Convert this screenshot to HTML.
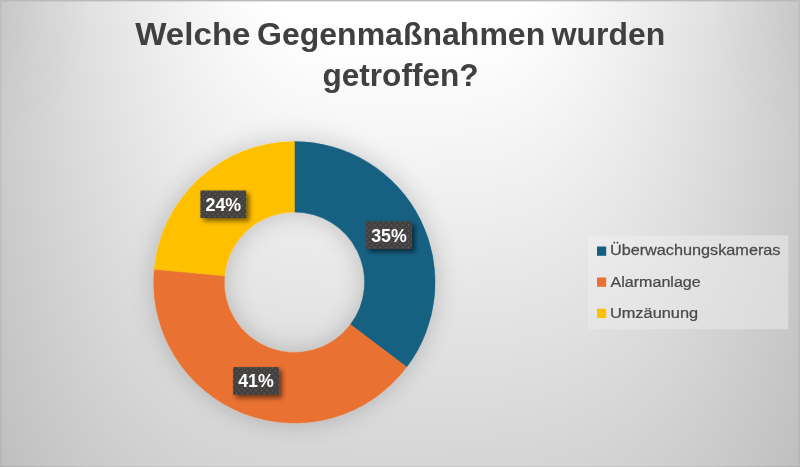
<!DOCTYPE html>
<html lang="de">
<head>
<meta charset="utf-8">
<title>Welche Gegenmaßnahmen wurden getroffen?</title>
<style>
  html, body { margin: 0; padding: 0; }
  body {
    width: 800px; height: 467px; overflow: hidden; position: relative;
    font-family: "Liberation Sans", sans-serif;
    background: #bfbfbf;
  }
  #bg {
    position: absolute; left: 0; top: 0; width: 800px; height: 467px;
    background: #bfbfbf;
  }
  #chart { position: absolute; left: 0; top: 0; display: block; }
  #bgsvg { display: block; }
  #frame {
    background: radial-gradient(ellipse 90px 140px at 0px 0px, rgba(0,0,0,0.036), rgba(0,0,0,0)), radial-gradient(ellipse 90px 140px at 800px 0px, rgba(0,0,0,0.036), rgba(0,0,0,0));
    position: absolute; left: 0; top: 0; width: 800px; height: 467px; box-sizing: border-box;
    border-left: 1px solid rgba(0,0,0,0.05); border-right: 1px solid rgba(0,0,0,0.05);
    border-bottom: 1px solid rgba(0,0,0,0.04); border-top: 1px solid #bababa;
    box-shadow: inset 0 1px 0 rgba(186,186,186,0.4), inset 1px 0 1px rgba(0,0,0,0.03), inset -1px 0 1px rgba(0,0,0,0.03);
  }

</style>
</head>
<body>
<div id="bg"><svg id="bgsvg" width="800" height="467" viewBox="0 0 800 467">
<rect width="800" height="467" fill="#bfbfbf"/>
<path fill="#c0c0c0" d="M-12 -8L-12 416.8L5 466.9L22 506.4L40 538.4L57 564.8L74 586.7L91 604.9L108 620.2L125 633.0L142 643.7L160 652.5L177 659.8L194 665.8L211 670.6L228 674.3L246 677.3L263 679.5L280 681.2L297 682.3L314 683.1L331 683.5L348 683.8L366 683.9L383 683.9L400 683.9L417 683.9L434 683.9L452 683.8L469 683.5L486 683.1L503 682.3L520 681.2L537 679.5L554 677.3L572 674.3L589 670.6L606 665.8L623 659.8L640 652.5L658 643.7L675 633.0L692 620.2L709 604.9L726 586.7L743 564.8L760 538.4L778 506.4L795 466.9L812 416.8L812 -8Z"/>
<path fill="#c1c1c1" d="M-12 -8L-12 395.6L5 448.8L22 490.4L40 523.8L57 551.1L74 573.8L91 592.6L108 608.4L125 621.6L142 632.5L160 641.6L177 649.1L194 655.2L211 660.1L228 664.0L246 667.0L263 669.3L280 671.0L297 672.1L314 672.9L331 673.4L348 673.6L366 673.8L383 673.8L400 673.8L417 673.8L434 673.8L452 673.6L469 673.4L486 672.9L503 672.1L520 671.0L537 669.3L554 667.0L572 664.0L589 660.1L606 655.2L623 649.1L640 641.6L658 632.5L675 621.6L692 608.4L709 592.6L726 573.8L743 551.1L760 523.8L778 490.4L795 448.8L812 395.6L812 -8Z"/>
<path fill="#c2c2c2" d="M-12 -8L-12 373.6L5 430.2L22 473.9L40 508.8L57 537.3L74 560.8L91 580.3L108 596.5L125 610.1L142 621.3L160 630.7L177 638.3L194 644.6L211 649.6L228 653.6L246 656.7L263 659.0L280 660.8L297 662.0L314 662.8L331 663.2L348 663.5L366 663.6L383 663.7L400 663.7L417 663.7L434 663.6L452 663.5L469 663.2L486 662.8L503 662.0L520 660.8L537 659.0L554 656.7L572 653.6L589 649.6L606 644.6L623 638.3L640 630.7L658 621.3L675 610.1L692 596.5L709 580.3L726 560.8L743 537.3L760 508.8L778 473.9L795 430.2L812 373.6L812 -8Z"/>
<path fill="#c3c3c3" d="M-12 -8L-12 350.3L5 411.0L22 457.1L40 493.7L57 523.3L74 547.6L91 567.8L108 584.5L125 598.5L142 610.1L160 619.7L177 627.6L194 634.0L211 639.1L228 643.2L246 646.4L263 648.8L280 650.6L297 651.8L314 652.6L331 653.1L348 653.4L366 653.5L383 653.5L400 653.5L417 653.5L434 653.5L452 653.4L469 653.1L486 652.6L503 651.8L520 650.6L537 648.8L554 646.4L572 643.2L589 639.1L606 634.0L623 627.6L640 619.7L658 610.1L675 598.5L692 584.5L709 567.8L726 547.6L743 523.3L760 493.7L778 457.1L795 411.0L812 350.3L812 -8Z"/>
<path fill="#c4c4c4" d="M-12 -8L-12 325.7L5 391.0L22 439.9L40 478.2L57 509.0L74 534.3L91 555.2L108 572.5L125 586.9L142 598.8L160 608.7L177 616.8L194 623.4L211 628.7L228 632.8L246 636.1L263 638.5L280 640.3L297 641.6L314 642.5L331 643.0L348 643.2L366 643.4L383 643.4L400 643.4L417 643.4L434 643.4L452 643.2L469 643.0L486 642.5L503 641.6L520 640.3L537 638.5L554 636.1L572 632.8L589 628.7L606 623.4L623 616.8L640 608.7L658 598.8L675 586.9L692 572.5L709 555.2L726 534.3L743 509.0L760 478.2L778 439.9L795 391.0L812 325.7L812 -8Z"/>
<path fill="#c5c5c5" d="M-12 -8L-12 299.5L5 370.2L22 422.1L40 462.4L57 494.6L74 520.8L91 542.5L108 560.3L125 575.2L142 587.5L160 597.6L177 605.9L194 612.7L211 618.1L228 622.4L246 625.8L263 628.3L280 630.1L297 631.4L314 632.3L331 632.8L348 633.1L366 633.2L383 633.3L400 633.3L417 633.3L434 633.2L452 633.1L469 632.8L486 632.3L503 631.4L520 630.1L537 628.3L554 625.8L572 622.4L589 618.1L606 612.7L623 605.9L640 597.6L658 587.5L675 575.2L692 560.3L709 542.5L726 520.8L743 494.6L760 462.4L778 422.1L795 370.2L812 299.5L812 -8Z"/>
<path fill="#c6c6c6" d="M-12 -8L-12 271.3L5 348.4L22 403.8L40 446.2L57 479.9L74 507.2L91 529.6L108 548.1L125 563.4L142 576.1L160 586.5L177 595.1L194 602.0L211 607.6L228 612.0L246 615.5L263 618.0L280 619.9L297 621.3L314 622.1L331 622.7L348 623.0L366 623.1L383 623.1L400 623.1L417 623.1L434 623.1L452 623.0L469 622.7L486 622.1L503 621.3L520 619.9L537 618.0L554 615.5L572 612.0L589 607.6L606 602.0L623 595.1L640 586.5L658 576.1L675 563.4L692 548.1L709 529.6L726 507.2L743 479.9L760 446.2L778 403.8L795 348.4L812 271.3L812 -8Z"/>
<path fill="#c7c7c7" d="M-12 -8L-12 240.5L5 325.5L22 384.8L40 429.6L57 465.0L74 493.4L91 516.7L108 535.8L125 551.6L142 564.7L160 575.4L177 584.2L194 591.4L211 597.1L228 601.6L246 605.1L263 607.8L280 609.7L297 611.1L314 612.0L331 612.5L348 612.8L366 613.0L383 613.0L400 613.0L417 613.0L434 613.0L452 612.8L469 612.5L486 612.0L503 611.1L520 609.7L537 607.8L554 605.1L572 601.6L589 597.1L606 591.4L623 584.2L640 575.4L658 564.7L675 551.6L692 535.8L709 516.7L726 493.4L743 465.0L760 429.6L778 384.8L795 325.5L812 240.5L812 -8Z"/>
<path fill="#c8c8c8" d="M-12 -8L-12 206.2L5 301.2L22 365.1L40 412.7L57 449.7L74 479.4L91 503.6L108 523.4L125 539.7L142 553.2L160 564.3L177 573.3L194 580.7L211 586.5L228 591.2L246 594.8L263 597.5L280 599.5L297 600.9L314 601.8L331 602.4L348 602.7L366 602.8L383 602.9L400 602.9L417 602.9L434 602.8L452 602.7L469 602.4L486 601.8L503 600.9L520 599.5L537 597.5L554 594.8L572 591.2L589 586.5L606 580.7L623 573.3L640 564.3L658 553.2L675 539.7L692 523.4L709 503.6L726 479.4L743 449.7L760 412.7L778 365.1L795 301.2L812 206.2L812 -8Z"/>
<path fill="#c9c9c9" d="M-12 -8L-12 167.3L5 275.3L22 344.6L40 395.2L57 434.2L74 465.2L91 490.3L108 510.8L125 527.7L142 541.6L160 553.0L177 562.4L194 569.9L211 576.0L228 580.7L246 584.4L263 587.2L280 589.3L297 590.7L314 591.7L331 592.2L348 592.6L366 592.7L383 592.7L400 592.7L417 592.7L434 592.7L452 592.6L469 592.2L486 591.7L503 590.7L520 589.3L537 587.2L554 584.4L572 580.7L589 576.0L606 569.9L623 562.4L640 553.0L658 541.6L675 527.7L692 510.8L709 490.3L726 465.2L743 434.2L760 395.2L778 344.6L795 275.3L812 167.3L812 -8Z"/>
<path fill="#cacaca" d="M-12 -8L-12 121.3L5 247.3L22 323.2L40 377.2L57 418.3L74 450.7L91 476.9L108 498.2L125 515.7L142 530.0L160 541.8L177 551.4L194 559.2L211 565.4L228 570.3L246 574.1L263 577.0L280 579.1L297 580.5L314 581.5L331 582.1L348 582.4L366 582.6L383 582.6L400 582.6L417 582.6L434 582.6L452 582.4L469 582.1L486 581.5L503 580.5L520 579.1L537 577.0L554 574.1L572 570.3L589 565.4L606 559.2L623 551.4L640 541.8L658 530.0L675 515.7L692 498.2L709 476.9L726 450.7L743 418.3L760 377.2L778 323.2L795 247.3L812 121.3L812 -8Z"/>
<path fill="#cbcbcb" d="M-12 -8L-12 63.2L5 216.8L22 300.6L40 358.5L57 402.0L74 436.0L91 463.3L108 485.4L125 503.5L142 518.4L160 530.5L177 540.4L194 548.4L211 554.8L228 559.8L246 563.7L263 566.7L280 568.8L297 570.3L314 571.3L331 572.0L348 572.3L366 572.4L383 572.5L400 572.5L417 572.5L434 572.4L452 572.3L469 572.0L486 571.3L503 570.3L520 568.8L537 566.7L554 563.7L572 559.8L589 554.8L606 548.4L623 540.4L640 530.5L658 518.4L675 503.5L692 485.4L709 463.3L726 436.0L743 402.0L760 358.5L778 300.6L795 216.8L812 63.2L812 -8Z"/>
<path fill="#cccccc" d="M-12 -8L-12 -8.0L5 182.7L22 276.7L40 339.2L57 385.3L74 421.1L91 449.5L108 472.5L125 491.3L142 506.6L160 519.2L177 529.3L194 537.6L211 544.2L228 549.3L246 553.4L263 556.4L280 558.6L297 560.2L314 561.2L331 561.8L348 562.2L366 562.3L383 562.3L400 562.4L417 562.3L434 562.3L452 562.2L469 561.8L486 561.2L503 560.2L520 558.6L537 556.4L554 553.4L572 549.3L589 544.2L606 537.6L623 529.3L640 519.2L658 506.6L675 491.3L692 472.5L709 449.5L726 421.1L743 385.3L760 339.2L778 276.7L795 182.7L812 -8.0L812 -8Z"/>
<path fill="#cdcdcd" d="M-12 -8L-12 -8.0L5 146.1L23 252.3L40 319.9L57 368.7L74 406.2L91 435.9L108 459.8L126 479.1L143 495.0L160 507.9L177 518.4L194 526.8L211 533.6L228 538.9L246 543.0L263 546.1L280 548.4L297 550.0L314 551.0L331 551.7L349 552.0L366 552.2L383 552.2L400 552.2L417 552.2L434 552.2L451 552.0L469 551.7L486 551.0L503 550.0L520 548.4L537 546.1L554 543.0L572 538.9L589 533.6L606 526.8L623 518.4L640 507.9L657 495.0L674 479.1L692 459.8L709 435.9L726 406.2L743 368.7L760 319.9L777 252.3L795 146.1L812 -8.0L812 -8Z"/>
<path fill="#cecece" d="M-7 -8L-7 -8.0L10 140.4L27 245.5L44 312.3L61 360.6L78 397.7L95 427.0L112 450.6L129 469.8L146 485.5L162 498.2L179 508.6L196 517.0L213 523.6L230 528.9L247 533.0L264 536.0L281 538.3L298 539.9L315 540.9L332 541.5L349 541.9L366 542.0L383 542.1L400 542.1L417 542.1L434 542.0L451 541.9L468 541.5L485 540.9L502 539.9L519 538.3L536 536.0L553 533.0L570 528.9L587 523.6L604 517.0L621 508.6L638 498.2L654 485.5L671 469.8L688 450.6L705 427.0L722 397.7L739 360.6L756 312.3L773 245.5L790 140.4L807 -8.0L807 -8Z"/>
<path fill="#cfcfcf" d="M-3 -8L-3 -8.0L14 134.7L31 238.6L48 304.7L64 352.5L81 389.2L98 418.2L115 441.5L132 460.5L148 476.0L165 488.6L182 498.8L199 507.1L215 513.7L232 518.9L249 522.9L266 526.0L283 528.2L299 529.8L316 530.8L333 531.4L350 531.8L366 531.9L383 532.0L400 532.0L417 532.0L434 531.9L450 531.8L467 531.4L484 530.8L501 529.8L517 528.2L534 526.0L551 522.9L568 518.9L585 513.7L601 507.1L618 498.8L635 488.6L652 476.0L668 460.5L685 441.5L702 418.2L719 389.2L736 352.5L752 304.7L769 238.6L786 134.7L803 -8.0L803 -8Z"/>
<path fill="#d0d0d0" d="M2 -8L2 -8.0L18 129.0L35 231.8L52 297.1L68 344.4L85 380.6L101 409.3L118 432.4L135 451.1L151 466.4L168 478.9L184 489.1L201 497.3L217 503.8L234 508.9L251 512.9L267 515.9L284 518.1L300 519.6L317 520.7L334 521.3L350 521.6L367 521.8L383 521.8L400 521.8L417 521.8L433 521.8L450 521.6L466 521.3L483 520.7L500 519.6L516 518.1L533 515.9L549 512.9L566 508.9L583 503.8L599 497.3L616 489.1L632 478.9L649 466.4L665 451.1L682 432.4L699 409.3L715 380.6L732 344.4L748 297.1L765 231.8L782 129.0L798 -8.0L798 -8Z"/>
<path fill="#d1d1d1" d="M6 -8L6 -8.0L23 123.3L39 224.9L56 289.5L72 336.2L88 372.1L105 400.4L121 423.3L138 441.8L154 456.9L170 469.3L187 479.3L203 487.4L220 493.9L236 498.9L252 502.9L269 505.8L285 508.0L302 509.5L318 510.5L334 511.2L351 511.5L367 511.6L384 511.7L400 511.7L416 511.7L433 511.6L449 511.5L466 511.2L482 510.5L498 509.5L515 508.0L531 505.8L548 502.9L564 498.9L580 493.9L597 487.4L613 479.3L630 469.3L646 456.9L662 441.8L679 423.3L695 400.4L712 372.1L728 336.2L744 289.5L761 224.9L777 123.3L794 -8.0L794 -8Z"/>
<path fill="#d2d2d2" d="M11 -8L11 -8.0L27 117.7L43 218.1L59 281.9L76 328.1L92 363.6L108 391.6L124 414.2L141 432.5L157 447.4L173 459.6L189 469.5L205 477.5L222 483.9L238 489.0L254 492.9L270 495.8L286 497.9L303 499.4L319 500.4L335 501.0L351 501.4L368 501.5L384 501.6L400 501.6L416 501.6L432 501.5L449 501.4L465 501.0L481 500.4L497 499.4L514 497.9L530 495.8L546 492.9L562 489.0L578 483.9L595 477.5L611 469.5L627 459.6L643 447.4L659 432.5L676 414.2L692 391.6L708 363.6L724 328.1L741 281.9L757 218.1L773 117.7L789 -8.0L789 -8Z"/>
<path fill="#d3d3d3" d="M15 -8L15 -8.0L31 112.0L47 211.2L63 274.3L79 320.0L95 355.0L111 382.7L128 405.0L144 423.2L160 437.9L176 450.0L192 459.8L208 467.7L224 474.0L240 479.0L256 482.8L272 485.7L288 487.8L304 489.3L320 490.3L336 490.9L352 491.2L368 491.4L384 491.4L400 491.4L416 491.4L432 491.4L448 491.2L464 490.9L480 490.3L496 489.3L512 487.8L528 485.7L544 482.8L560 479.0L576 474.0L592 467.7L608 459.8L624 450.0L640 437.9L656 423.2L672 405.0L689 382.7L705 355.0L721 320.0L737 274.3L753 211.2L769 112.0L785 -8.0L785 -8Z"/>
<path fill="#d4d4d4" d="M20 -8L20 -8.0L36 106.3L52 204.4L67 266.7L83 311.9L99 346.5L115 373.9L131 395.9L147 413.8L162 428.4L178 440.3L194 450.0L210 457.8L226 464.1L242 469.0L257 472.8L273 475.7L289 477.7L305 479.2L321 480.2L337 480.8L352 481.1L368 481.3L384 481.3L400 481.3L416 481.3L432 481.3L448 481.1L463 480.8L479 480.2L495 479.2L511 477.7L527 475.7L543 472.8L558 469.0L574 464.1L590 457.8L606 450.0L622 440.3L638 428.4L653 413.8L669 395.9L685 373.9L701 346.5L717 311.9L733 266.7L748 204.4L764 106.3L780 -8.0L780 -8Z"/>
<path fill="#d5d5d5" d="M24 -8L24 -8.0L40 100.6L56 197.5L71 259.1L87 303.7L103 337.9L118 365.0L134 386.8L150 404.5L165 418.9L181 430.7L197 440.3L212 448.0L228 454.1L243 459.0L259 462.8L275 465.6L290 467.7L306 469.1L322 470.1L337 470.7L353 471.0L369 471.1L384 471.2L400 471.2L416 471.2L431 471.1L447 471.0L463 470.7L478 470.1L494 469.1L510 467.7L525 465.6L541 462.8L557 459.0L572 454.1L588 448.0L603 440.3L619 430.7L635 418.9L650 404.5L666 386.8L682 365.0L697 337.9L713 303.7L729 259.1L744 197.5L760 100.6L776 -8.0L776 -8Z"/>
<path fill="#d6d6d6" d="M29 -8L29 -8.0L44 94.9L60 190.7L75 251.5L91 295.6L106 329.4L122 356.2L137 377.7L153 395.2L168 409.4L183 421.0L199 430.5L214 438.1L230 444.2L245 449.0L261 452.7L276 455.5L292 457.6L307 459.0L323 460.0L338 460.5L354 460.9L369 461.0L385 461.0L400 461.0L415 461.0L431 461.0L446 460.9L462 460.5L477 460.0L493 459.0L508 457.6L524 455.5L539 452.7L555 449.0L570 444.2L586 438.1L601 430.5L617 421.0L632 409.4L647 395.2L663 377.7L678 356.2L694 329.4L709 295.6L725 251.5L740 190.7L756 94.9L771 -8.0L771 -8Z"/>
<path fill="#d7d7d7" d="M33 -8L33 -8.0L49 89.2L64 183.8L79 244.0L94 287.5L110 320.9L125 347.3L140 368.6L156 385.8L171 399.9L186 411.4L201 420.7L217 428.3L232 434.3L247 439.0L262 442.7L278 445.5L293 447.5L308 448.9L324 449.8L339 450.4L354 450.7L369 450.9L385 450.9L400 450.9L415 450.9L431 450.9L446 450.7L461 450.4L476 449.8L492 448.9L507 447.5L522 445.5L538 442.7L553 439.0L568 434.3L583 428.3L599 420.7L614 411.4L629 399.9L644 385.8L660 368.6L675 347.3L690 320.9L706 287.5L721 244.0L736 183.8L751 89.2L767 -8.0L767 -8Z"/>
<path fill="#d8d8d8" d="M38 -8L38 -8.0L53 83.5L68 177.0L83 236.4L98 279.4L113 312.3L128 338.4L143 359.4L159 376.5L174 390.4L189 401.8L204 411.0L219 418.4L234 424.4L249 429.0L264 432.7L279 435.4L294 437.4L309 438.8L325 439.7L340 440.3L355 440.6L370 440.7L385 440.8L400 440.8L415 440.8L430 440.7L445 440.6L460 440.3L475 439.7L491 438.8L506 437.4L521 435.4L536 432.7L551 429.0L566 424.4L581 418.4L596 411.0L611 401.8L626 390.4L641 376.5L657 359.4L672 338.4L687 312.3L702 279.4L717 236.4L732 177.0L747 83.5L762 -8.0L762 -8Z"/>
<path fill="#d9d9d9" d="M42 -8L42 -8.0L57 77.8L72 170.1L87 228.8L102 271.2L117 303.8L132 329.6L147 350.3L162 367.2L176 380.9L191 392.1L206 401.2L221 408.6L236 414.4L251 419.1L266 422.6L281 425.3L296 427.3L311 428.7L325 429.6L340 430.2L355 430.5L370 430.6L385 430.6L400 430.6L415 430.6L430 430.6L445 430.5L460 430.2L475 429.6L489 428.7L504 427.3L519 425.3L534 422.6L549 419.1L564 414.4L579 408.6L594 401.2L609 392.1L624 380.9L638 367.2L653 350.3L668 329.6L683 303.8L698 271.2L713 228.8L728 170.1L743 77.8L758 -8.0L758 -8Z"/>
<path fill="#dadada" d="M47 -8L47 -8.0L62 72.1L76 163.3L91 221.2L106 263.1L120 295.3L135 320.7L150 341.2L165 357.8L179 371.4L194 382.5L209 391.5L223 398.7L238 404.5L253 409.1L268 412.6L282 415.3L297 417.2L312 418.6L326 419.5L341 420.0L356 420.3L371 420.5L385 420.5L400 420.5L415 420.5L429 420.5L444 420.3L459 420.0L474 419.5L488 418.6L503 417.2L518 415.3L532 412.6L547 409.1L562 404.5L577 398.7L591 391.5L606 382.5L621 371.4L635 357.8L650 341.2L665 320.7L680 295.3L694 263.1L709 221.2L724 163.3L738 72.1L753 -8.0L753 -8Z"/>
<path fill="#dbdbdb" d="M51 -8L51 -8.0L66 66.4L80 156.4L95 213.6L109 255.0L124 286.7L139 311.9L153 332.1L168 348.5L182 361.9L197 372.8L211 381.7L226 388.9L240 394.6L255 399.1L269 402.6L284 405.2L298 407.1L313 408.5L327 409.4L342 409.9L356 410.2L371 410.3L385 410.4L400 410.4L415 410.4L429 410.3L444 410.2L458 409.9L473 409.4L487 408.5L502 407.1L516 405.2L531 402.6L545 399.1L560 394.6L574 388.9L589 381.7L603 372.8L618 361.9L632 348.5L647 332.1L661 311.9L676 286.7L691 255.0L705 213.6L720 156.4L734 66.4L749 -8.0L749 -8Z"/>
<path fill="#dcdcdc" d="M56 -8L56 -8.0L70 60.8L85 149.6L99 206.0L113 246.9L128 278.2L142 303.0L156 323.0L171 339.2L185 352.4L199 363.2L214 371.9L228 379.0L242 384.7L257 389.1L271 392.5L285 395.1L300 397.0L314 398.4L328 399.2L343 399.8L357 400.1L371 400.2L386 400.2L400 400.2L414 400.2L429 400.2L443 400.1L457 399.8L472 399.2L486 398.4L500 397.0L515 395.1L529 392.5L543 389.1L558 384.7L572 379.0L586 371.9L601 363.2L615 352.4L629 339.2L644 323.0L658 303.0L672 278.2L687 246.9L701 206.0L715 149.6L730 60.8L744 -8.0L744 -8Z"/>
<path fill="#dddddd" d="M60 -8L60 -8.0L75 55.1L89 142.7L103 198.4L117 238.7L131 269.7L145 294.1L159 313.8L174 329.8L188 342.9L202 353.5L216 362.2L230 369.2L244 374.7L258 379.1L273 382.5L287 385.1L301 386.9L315 388.3L329 389.1L343 389.7L358 389.9L372 390.1L386 390.1L400 390.1L414 390.1L428 390.1L442 389.9L457 389.7L471 389.1L485 388.3L499 386.9L513 385.1L527 382.5L542 379.1L556 374.7L570 369.2L584 362.2L598 353.5L612 342.9L626 329.8L641 313.8L655 294.1L669 269.7L683 238.7L697 198.4L711 142.7L725 55.1L740 -8.0L740 -8Z"/>
<path fill="#dedede" d="M65 -8L65 -8.0L79 49.4L93 135.9L107 190.8L121 230.6L135 261.1L149 285.3L163 304.7L177 320.5L191 333.4L205 343.9L218 352.4L232 359.3L246 364.8L260 369.1L274 372.5L288 375.0L302 376.9L316 378.1L330 379.0L344 379.5L358 379.8L372 379.9L386 380.0L400 380.0L414 380.0L428 379.9L442 379.8L456 379.5L470 379.0L484 378.1L498 376.9L512 375.0L526 372.5L540 369.1L554 364.8L568 359.3L582 352.4L595 343.9L609 333.4L623 320.5L637 304.7L651 285.3L665 261.1L679 230.6L693 190.8L707 135.9L721 49.4L735 -8.0L735 -8Z"/>
<path fill="#dfdfdf" d="M69 -8L69 -8.0L83 43.7L97 129.0L111 183.2L124 222.5L138 252.6L152 276.4L166 295.6L180 311.2L193 323.9L207 334.2L221 342.6L235 349.4L248 354.9L262 359.1L276 362.4L290 364.9L304 366.8L317 368.0L331 368.9L345 369.4L359 369.7L372 369.8L386 369.8L400 369.9L414 369.8L428 369.8L441 369.7L455 369.4L469 368.9L483 368.0L496 366.8L510 364.9L524 362.4L538 359.1L552 354.9L565 349.4L579 342.6L593 334.2L607 323.9L620 311.2L634 295.6L648 276.4L662 252.6L676 222.5L689 183.2L703 129.0L717 43.7L731 -8.0L731 -8Z"/>
<path fill="#e0e0e0" d="M74 -8L74 -8.0L87 38.0L101 122.2L115 175.6L128 214.4L142 244.1L155 267.6L169 286.5L183 301.8L196 314.4L210 324.6L223 332.9L237 339.6L251 344.9L264 349.2L278 352.4L291 354.9L305 356.7L318 357.9L332 358.8L346 359.3L359 359.6L373 359.7L386 359.7L400 359.7L414 359.7L427 359.7L441 359.6L454 359.3L468 358.8L482 357.9L495 356.7L509 354.9L522 352.4L536 349.2L549 344.9L563 339.6L577 332.9L590 324.6L604 314.4L617 301.8L631 286.5L645 267.6L658 244.1L672 214.4L685 175.6L699 122.2L713 38.0L726 -8.0L726 -8Z"/>
<path fill="#e1e1e1" d="M78 -8L78 -8.0L92 32.3L105 115.3L119 168.1L132 206.2L145 235.5L159 258.7L172 277.3L186 292.5L199 304.9L212 314.9L226 323.1L239 329.7L253 335.0L266 339.2L279 342.4L293 344.8L306 346.6L320 347.8L333 348.6L346 349.2L360 349.4L373 349.5L387 349.6L400 349.6L413 349.6L427 349.5L440 349.4L454 349.2L467 348.6L480 347.8L494 346.6L507 344.8L521 342.4L534 339.2L547 335.0L561 329.7L574 323.1L588 314.9L601 304.9L614 292.5L628 277.3L641 258.7L655 235.5L668 206.2L681 168.1L695 115.3L708 32.3L722 -8.0L722 -8Z"/>
<path fill="#e2e2e2" d="M83 -8L83 -8.0L96 26.6L109 108.5L123 160.5L136 198.1L149 227.0L162 249.8L175 268.2L189 283.2L202 295.4L215 305.3L228 313.4L241 319.9L255 325.1L268 329.2L281 332.4L294 334.7L308 336.5L321 337.7L334 338.5L347 339.0L360 339.3L374 339.4L387 339.5L400 339.5L413 339.5L426 339.4L440 339.3L453 339.0L466 338.5L479 337.7L492 336.5L506 334.7L519 332.4L532 329.2L545 325.1L559 319.9L572 313.4L585 305.3L598 295.4L611 283.2L625 268.2L638 249.8L651 227.0L664 198.1L677 160.5L691 108.5L704 26.6L717 -8.0L717 -8Z"/>
<path fill="#e3e3e3" d="M87 -8L87 -8.0L100 20.9L113 101.6L126 152.9L139 190.0L153 218.5L166 241.0L179 259.1L192 273.8L205 285.8L218 295.6L231 303.6L244 310.0L257 315.2L270 319.2L283 322.3L296 324.7L309 326.4L322 327.6L335 328.4L348 328.9L361 329.2L374 329.3L387 329.3L400 329.3L413 329.3L426 329.3L439 329.2L452 328.9L465 328.4L478 327.6L491 326.4L504 324.7L517 322.3L530 319.2L543 315.2L556 310.0L569 303.6L582 295.6L595 285.8L608 273.8L621 259.1L634 241.0L647 218.5L661 190.0L674 152.9L687 101.6L700 20.9L713 -8.0L713 -8Z"/>
<path fill="#e4e4e4" d="M92 -8L92 -8.0L105 15.2L118 94.8L130 145.3L143 181.9L156 209.9L169 232.1L182 250.0L195 264.5L207 276.3L220 286.0L233 293.8L246 300.2L259 305.2L272 309.2L284 312.3L297 314.6L310 316.3L323 317.5L336 318.3L349 318.8L361 319.0L374 319.2L387 319.2L400 319.2L413 319.2L426 319.2L439 319.0L451 318.8L464 318.3L477 317.5L490 316.3L503 314.6L516 312.3L528 309.2L541 305.2L554 300.2L567 293.8L580 286.0L593 276.3L605 264.5L618 250.0L631 232.1L644 209.9L657 181.9L670 145.3L682 94.8L695 15.2L708 -8.0L708 -8Z"/>
<path fill="#e5e5e5" d="M96 -8L96 -8.0L109 9.6L122 87.9L134 137.7L147 173.7L160 201.4L172 223.3L185 240.9L198 255.2L210 266.8L223 276.4L236 284.1L248 290.3L261 295.3L273 299.2L286 302.3L299 304.6L311 306.2L324 307.4L337 308.2L349 308.7L362 308.9L375 309.0L387 309.1L400 309.1L413 309.1L425 309.0L438 308.9L451 308.7L463 308.2L476 307.4L489 306.2L501 304.6L514 302.3L527 299.2L539 295.3L552 290.3L564 284.1L577 276.4L590 266.8L602 255.2L615 240.9L628 223.3L640 201.4L653 173.7L666 137.7L678 87.9L691 9.6L704 -8.0L704 -8Z"/>
<path fill="#e6e6e6" d="M101 -8L101 -8.0L113 3.9L126 81.1L138 130.1L151 165.6L163 192.9L176 214.4L188 231.7L201 245.8L213 257.3L226 266.7L238 274.3L250 280.5L263 285.4L275 289.2L288 292.2L300 294.5L313 296.1L325 297.3L338 298.1L350 298.5L363 298.8L375 298.9L388 298.9L400 298.9L412 298.9L425 298.9L437 298.8L450 298.5L462 298.1L475 297.3L487 296.1L500 294.5L512 292.2L525 289.2L537 285.4L550 280.5L562 274.3L574 266.7L587 257.3L599 245.8L612 231.7L624 214.4L637 192.9L649 165.6L662 130.1L674 81.1L687 3.9L699 -8.0L699 -8Z"/>
<path fill="#e7e7e7" d="M105 -8L105 -8.0L118 -1.8L130 74.2L142 122.5L154 157.5L167 184.3L179 205.5L191 222.6L204 236.5L216 247.8L228 257.1L240 264.6L253 270.6L265 275.5L277 279.3L290 282.2L302 284.4L314 286.0L326 287.2L339 287.9L351 288.4L363 288.6L375 288.8L388 288.8L400 288.8L412 288.8L425 288.8L437 288.6L449 288.4L461 287.9L474 287.2L486 286.0L498 284.4L510 282.2L523 279.3L535 275.5L547 270.6L560 264.6L572 257.1L584 247.8L596 236.5L609 222.6L621 205.5L633 184.3L646 157.5L658 122.5L670 74.2L682 -1.8L695 -8.0L695 -8Z"/>
<path fill="#e8e8e8" d="M110 -8L110 -8.0L122 -7.5L134 67.4L146 114.9L158 149.4L170 175.8L182 196.7L195 213.5L207 227.2L219 238.3L231 247.4L243 254.8L255 260.8L267 265.5L279 269.3L291 272.2L303 274.4L315 276.0L327 277.1L340 277.8L352 278.3L364 278.5L376 278.6L388 278.7L400 278.7L412 278.7L424 278.6L436 278.5L448 278.3L460 277.8L473 277.1L485 276.0L497 274.4L509 272.2L521 269.3L533 265.5L545 260.8L557 254.8L569 247.4L581 238.3L593 227.2L605 213.5L618 196.7L630 175.8L642 149.4L654 114.9L666 67.4L678 -7.5L690 -8.0L690 -8Z"/>
<path fill="#e9e9e9" d="M126 -8L126 -8.0L138 60.5L150 107.3L162 141.2L174 167.3L186 187.8L198 204.4L210 217.8L221 228.8L233 237.8L245 245.0L257 250.9L269 255.6L281 259.3L293 262.1L305 264.3L317 265.9L329 267.0L340 267.7L352 268.1L364 268.4L376 268.5L388 268.5L400 268.5L412 268.5L424 268.5L436 268.4L448 268.1L460 267.7L471 267.0L483 265.9L495 264.3L507 262.1L519 259.3L531 255.6L543 250.9L555 245.0L567 237.8L579 228.8L590 217.8L602 204.4L614 187.8L626 167.3L638 141.2L650 107.3L662 60.5L674 -8.0L674 -8Z"/>
<path fill="#eaeaea" d="M131 -8L131 -8.0L142 53.7L154 99.7L166 133.1L177 158.7L189 179.0L201 195.3L213 208.5L224 219.3L236 228.1L248 235.3L259 241.1L271 245.7L283 249.3L295 252.1L306 254.2L318 255.8L330 256.9L341 257.6L353 258.0L365 258.3L377 258.4L388 258.4L400 258.4L412 258.4L423 258.4L435 258.3L447 258.0L459 257.6L470 256.9L482 255.8L494 254.2L505 252.1L517 249.3L529 245.7L541 241.1L552 235.3L564 228.1L576 219.3L587 208.5L599 195.3L611 179.0L623 158.7L634 133.1L646 99.7L658 53.7L669 -8.0L669 -8Z"/>
<path fill="#ebebeb" d="M135 -8L135 -8.0L146 46.8L158 92.2L170 125.0L181 150.2L193 170.1L204 186.1L216 199.2L227 209.8L239 218.5L250 225.5L262 231.2L273 235.7L285 239.3L296 242.1L308 244.2L319 245.7L331 246.8L342 247.5L354 247.9L365 248.1L377 248.2L388 248.3L400 248.3L412 248.3L423 248.2L435 248.1L446 247.9L458 247.5L469 246.8L481 245.7L492 244.2L504 242.1L515 239.3L527 235.7L538 231.2L550 225.5L561 218.5L573 209.8L584 199.2L596 186.1L607 170.1L619 150.2L630 125.0L642 92.2L654 46.8L665 -8.0L665 -8Z"/>
<path fill="#ececec" d="M139 -8L139 -8.0L151 40.0L162 84.6L173 116.9L185 141.7L196 161.3L207 177.0L219 189.8L230 200.3L241 208.8L253 215.8L264 221.3L275 225.8L287 229.3L298 232.0L309 234.1L321 235.6L332 236.6L343 237.3L355 237.8L366 238.0L377 238.1L389 238.1L400 238.1L411 238.1L423 238.1L434 238.0L445 237.8L457 237.3L468 236.6L479 235.6L491 234.1L502 232.0L513 229.3L525 225.8L536 221.3L547 215.8L559 208.8L570 200.3L581 189.8L593 177.0L604 161.3L615 141.7L627 116.9L638 84.6L649 40.0L661 -8.0L661 -8Z"/>
<path fill="#ededed" d="M144 -8L144 -8.0L155 33.1L166 77.0L177 108.7L188 133.1L199 152.4L210 167.9L222 180.5L233 190.8L244 199.2L255 206.0L266 211.5L277 215.9L289 219.3L300 222.0L311 224.0L322 225.5L333 226.5L344 227.2L355 227.6L367 227.9L378 228.0L389 228.0L400 228.0L411 228.0L422 228.0L433 227.9L445 227.6L456 227.2L467 226.5L478 225.5L489 224.0L500 222.0L511 219.3L523 215.9L534 211.5L545 206.0L556 199.2L567 190.8L578 180.5L590 167.9L601 152.4L612 133.1L623 108.7L634 77.0L645 33.1L656 -8.0L656 -8Z"/>
<path fill="#eeeeee" d="M148 -8L148 -8.0L159 26.2L170 69.4L181 100.6L192 124.6L203 143.5L214 158.8L225 171.2L236 181.3L247 189.5L257 196.2L268 201.6L279 206.0L290 209.4L301 212.0L312 214.0L323 215.4L334 216.4L345 217.1L356 217.5L367 217.7L378 217.8L389 217.9L400 217.9L411 217.9L422 217.8L433 217.7L444 217.5L455 217.1L466 216.4L477 215.4L488 214.0L499 212.0L510 209.4L521 206.0L532 201.6L543 196.2L553 189.5L564 181.3L575 171.2L586 158.8L597 143.5L608 124.6L619 100.6L630 69.4L641 26.2L652 -8.0L652 -8Z"/>
<path fill="#efefef" d="M152 -8L152 -8.0L163 19.4L174 61.8L185 92.5L195 116.0L206 134.7L217 149.7L228 161.8L238 171.8L249 179.9L260 186.5L271 191.8L281 196.0L292 199.4L303 202.0L314 203.9L325 205.3L335 206.3L346 207.0L357 207.4L368 207.6L378 207.7L389 207.7L400 207.7L411 207.7L422 207.7L432 207.6L443 207.4L454 207.0L465 206.3L475 205.3L486 203.9L497 202.0L508 199.4L519 196.0L529 191.8L540 186.5L551 179.9L562 171.8L572 161.8L583 149.7L594 134.7L605 116.0L615 92.5L626 61.8L637 19.4L648 -8.0L648 -8Z"/>
<path fill="#f0f0f0" d="M157 -8L157 -8.0L167 12.5L178 54.2L188 84.4L199 107.5L209 125.8L220 140.5L231 152.5L241 162.3L252 170.2L262 176.7L273 181.9L284 186.1L294 189.4L305 191.9L315 193.8L326 195.2L336 196.2L347 196.9L358 197.3L368 197.5L379 197.6L389 197.6L400 197.6L411 197.6L421 197.6L432 197.5L442 197.3L453 196.9L464 196.2L474 195.2L485 193.8L495 191.9L506 189.4L516 186.1L527 181.9L538 176.7L548 170.2L559 162.3L569 152.5L580 140.5L591 125.8L601 107.5L612 84.4L622 54.2L633 12.5L643 -8.0L643 -8Z"/>
<path fill="#f1f1f1" d="M161 -8L161 -8.0L171 5.7L182 46.6L192 76.2L202 99.0L213 117.0L223 131.4L234 143.2L244 152.8L254 160.6L265 166.9L275 172.1L286 176.2L296 179.4L306 181.9L317 183.8L327 185.1L338 186.1L348 186.8L358 187.1L369 187.4L379 187.4L390 187.5L400 187.5L410 187.5L421 187.4L431 187.4L442 187.1L452 186.8L462 186.1L473 185.1L483 183.8L494 181.9L504 179.4L514 176.2L525 172.1L535 166.9L546 160.6L556 152.8L566 143.2L577 131.4L587 117.0L598 99.0L608 76.2L618 46.6L629 5.7L639 -8.0L639 -8Z"/>
<path fill="#f2f2f2" d="M165 -8L165 -8.0L175 -1.2L186 39.0L196 68.1L206 90.4L216 108.1L226 122.3L237 133.8L247 143.3L257 150.9L267 157.2L277 162.2L288 166.2L298 169.4L308 171.9L318 173.7L329 175.1L339 176.0L349 176.6L359 177.0L369 177.2L380 177.3L390 177.3L400 177.3L410 177.3L420 177.3L431 177.2L441 177.0L451 176.6L461 176.0L471 175.1L482 173.7L492 171.9L502 169.4L512 166.2L523 162.2L533 157.2L543 150.9L553 143.3L563 133.8L574 122.3L584 108.1L594 90.4L604 68.1L614 39.0L625 -1.2L635 -8.0L635 -8Z"/>
<path fill="#f3f3f3" d="M179 -8L179 -8.0L190 31.4L200 60.0L210 81.9L220 99.2L230 113.2L240 124.5L250 133.8L260 141.3L270 147.4L280 152.4L290 156.3L300 159.4L310 161.8L320 163.6L330 165.0L340 165.9L350 166.5L360 166.9L370 167.1L380 167.2L390 167.2L400 167.2L410 167.2L420 167.2L430 167.1L440 166.9L450 166.5L460 165.9L470 165.0L480 163.6L490 161.8L500 159.4L510 156.3L520 152.4L530 147.4L540 141.3L550 133.8L560 124.5L570 113.2L580 99.2L590 81.9L600 60.0L610 31.4L621 -8.0L621 -8Z"/>
<path fill="#f4f4f4" d="M184 -8L184 -8.0L193 23.8L203 51.9L213 73.4L223 90.4L233 104.1L243 115.2L252 124.3L262 131.7L272 137.7L282 142.5L292 146.4L302 149.4L311 151.8L321 153.6L331 154.9L341 155.8L351 156.4L361 156.8L370 157.0L380 157.1L390 157.1L400 157.1L410 157.1L420 157.1L430 157.0L439 156.8L449 156.4L459 155.8L469 154.9L479 153.6L489 151.8L498 149.4L508 146.4L518 142.5L528 137.7L538 131.7L548 124.3L557 115.2L567 104.1L577 90.4L587 73.4L597 51.9L607 23.8L616 -8.0L616 -8Z"/>
<path fill="#f5f5f5" d="M188 -8L188 -8.0L197 16.3L207 43.7L217 64.8L226 81.5L236 94.9L246 105.9L255 114.7L265 122.0L275 127.9L284 132.7L294 136.5L304 139.5L313 141.8L323 143.5L332 144.8L342 145.7L352 146.3L361 146.6L371 146.8L381 146.9L390 147.0L400 147.0L410 147.0L419 146.9L429 146.8L439 146.6L448 146.3L458 145.7L468 144.8L477 143.5L487 141.8L496 139.5L506 136.5L516 132.7L525 127.9L535 122.0L545 114.7L554 105.9L564 94.9L574 81.5L583 64.8L593 43.7L603 16.3L612 -8.0L612 -8Z"/>
<path fill="#f6f6f6" d="M192 -8L192 -8.0L201 8.7L211 35.6L220 56.3L230 72.7L239 85.8L249 96.5L258 105.2L268 112.4L277 118.1L286 122.8L296 126.5L305 129.5L315 131.7L324 133.4L334 134.7L343 135.6L353 136.2L362 136.5L372 136.7L381 136.8L391 136.8L400 136.8L409 136.8L419 136.8L428 136.7L438 136.5L447 136.2L457 135.6L466 134.7L476 133.4L485 131.7L495 129.5L504 126.5L514 122.8L523 118.1L532 112.4L542 105.2L551 96.5L561 85.8L570 72.7L580 56.3L589 35.6L599 8.7L608 -8.0L608 -8Z"/>
<path fill="#f7f7f7" d="M196 -8L196 -8.0L205 1.1L215 27.5L224 47.8L233 63.8L242 76.7L252 87.2L261 95.7L270 102.7L279 108.4L289 113.0L298 116.6L307 119.5L317 121.7L326 123.4L335 124.6L344 125.5L354 126.0L363 126.4L372 126.6L381 126.7L391 126.7L400 126.7L409 126.7L419 126.7L428 126.6L437 126.4L446 126.0L456 125.5L465 124.6L474 123.4L483 121.7L493 119.5L502 116.6L511 113.0L521 108.4L530 102.7L539 95.7L548 87.2L558 76.7L567 63.8L576 47.8L585 27.5L595 1.1L604 -8.0L604 -8Z"/>
<path fill="#f8f8f8" d="M200 -8L200 -8.0L209 -6.5L218 19.4L227 39.2L236 54.9L246 67.6L255 77.9L264 86.2L273 93.1L282 98.6L291 103.1L300 106.7L309 109.5L318 111.7L327 113.3L336 114.5L345 115.4L355 115.9L364 116.3L373 116.4L382 116.5L391 116.6L400 116.6L409 116.6L418 116.5L427 116.4L436 116.3L445 115.9L455 115.4L464 114.5L473 113.3L482 111.7L491 109.5L500 106.7L509 103.1L518 98.6L527 93.1L536 86.2L545 77.9L554 67.6L564 54.9L573 39.2L582 19.4L591 -6.5L600 -8.0L600 -8Z"/>
<path fill="#f9f9f9" d="M213 -8L213 -8.0L222 11.3L231 30.7L240 46.1L249 58.5L258 68.5L267 76.7L275 83.4L284 88.9L293 93.2L302 96.8L311 99.5L320 101.6L329 103.3L338 104.4L347 105.3L356 105.8L364 106.1L373 106.3L382 106.4L391 106.4L400 106.4L409 106.4L418 106.4L427 106.3L436 106.1L444 105.8L453 105.3L462 104.4L471 103.3L480 101.6L489 99.5L498 96.8L507 93.2L516 88.9L525 83.4L533 76.7L542 68.5L551 58.5L560 46.1L569 30.7L578 11.3L587 -8.0L587 -8Z"/>
<path fill="#fafafa" d="M217 -8L217 -8.0L226 3.1L235 22.2L243 37.2L252 49.3L261 59.2L269 67.2L278 73.8L287 79.1L295 83.4L304 86.8L313 89.5L322 91.6L330 93.2L339 94.3L348 95.1L356 95.7L365 96.0L374 96.2L383 96.3L391 96.3L400 96.3L409 96.3L417 96.3L426 96.2L435 96.0L444 95.7L452 95.1L461 94.3L470 93.2L478 91.6L487 89.5L496 86.8L505 83.4L513 79.1L522 73.8L531 67.2L539 59.2L548 49.3L557 37.2L565 22.2L574 3.1L583 -8.0L583 -8Z"/>
<path fill="#fbfbfb" d="M221 -8L221 -8.0L230 -5.0L238 13.6L247 28.4L255 40.2L264 49.9L272 57.7L281 64.1L289 69.3L298 73.5L306 76.9L315 79.5L323 81.6L332 83.1L340 84.3L349 85.0L357 85.6L366 85.9L374 86.1L383 86.1L391 86.2L400 86.2L409 86.2L417 86.1L426 86.1L434 85.9L443 85.6L451 85.0L460 84.3L468 83.1L477 81.6L485 79.5L494 76.9L502 73.5L511 69.3L519 64.1L528 57.7L536 49.9L545 40.2L553 28.4L562 13.6L570 -5.0L579 -8.0L579 -8Z"/>
<path fill="#fcfcfc" d="M233 -8L233 -8.0L242 5.1L250 19.5L258 31.1L267 40.5L275 48.2L283 54.5L292 59.6L300 63.7L308 67.0L317 69.6L325 71.6L333 73.1L342 74.2L350 74.9L358 75.4L367 75.8L375 75.9L383 76.0L392 76.0L400 76.0L408 76.0L417 76.0L425 75.9L433 75.8L442 75.4L450 74.9L458 74.2L467 73.1L475 71.6L483 69.6L492 67.0L500 63.7L508 59.6L517 54.5L525 48.2L533 40.5L542 31.1L550 19.5L558 5.1L567 -8.0L567 -8Z"/>
<path fill="#fdfdfd" d="M237 -8L237 -8.0L245 -3.4L253 10.6L261 22.0L270 31.2L278 38.7L286 44.8L294 49.8L302 53.8L310 57.0L319 59.6L327 61.5L335 63.0L343 64.1L351 64.8L359 65.3L367 65.6L376 65.8L384 65.9L392 65.9L400 65.9L408 65.9L416 65.9L424 65.8L433 65.6L441 65.3L449 64.8L457 64.1L465 63.0L473 61.5L481 59.6L490 57.0L498 53.8L506 49.8L514 44.8L522 38.7L530 31.2L539 22.0L547 10.6L555 -3.4L563 -8.0L563 -8Z"/>
<path fill="#fefefe" d="M249 -8L249 -8.0L257 1.8L265 12.9L273 21.9L281 29.2L289 35.2L297 40.1L304 44.0L312 47.1L320 49.6L328 51.5L336 52.9L344 54.0L352 54.7L360 55.2L368 55.5L376 55.7L384 55.7L392 55.8L400 55.8L408 55.8L416 55.7L424 55.7L432 55.5L440 55.2L448 54.7L456 54.0L464 52.9L472 51.5L480 49.6L488 47.1L496 44.0L503 40.1L511 35.2L519 29.2L527 21.9L535 12.9L543 1.8L551 -8.0L551 -8Z"/>
<path fill="#ffffff" d="M252 -8L252 -8.0L260 -7.1L268 3.7L276 12.5L283 19.7L291 25.5L299 30.3L307 34.1L315 37.2L322 39.6L330 41.5L338 42.9L346 43.9L353 44.6L361 45.1L369 45.4L377 45.5L384 45.6L392 45.6L400 45.6L408 45.6L416 45.6L423 45.5L431 45.4L439 45.1L447 44.6L454 43.9L462 42.9L470 41.5L478 39.6L485 37.2L493 34.1L501 30.3L509 25.5L517 19.7L524 12.5L532 3.7L540 -7.1L548 -8.0L548 -8Z"/>
</svg></div>
<div id="frame"></div>

<svg id="chart" width="800" height="467" viewBox="0 0 800 467">
  <defs>
    <filter id="dsh" x="-30%" y="-30%" width="160%" height="160%">
      <feGaussianBlur in="SourceAlpha" stdDeviation="13"/>
      <feOffset dx="0" dy="0" result="b"/>
      <feComponentTransfer><feFuncA type="linear" slope="0.2"/></feComponentTransfer>
      <feMerge><feMergeNode/><feMergeNode in="SourceGraphic"/></feMerge>
    </filter>
    <filter id="lsh" x="-30%" y="-30%" width="170%" height="180%">
      <feGaussianBlur in="SourceAlpha" stdDeviation="2.4"/>
      <feOffset dx="2.8" dy="2.8"/>
      <feComponentTransfer><feFuncA type="linear" slope="0.55"/></feComponentTransfer>
      <feMerge><feMergeNode/><feMergeNode in="SourceGraphic"/></feMerge>
    </filter>
    <pattern id="dots" width="5.6" height="5.6" patternUnits="userSpaceOnUse">
      <rect width="5.6" height="5.6" fill="#434141"/>
      <circle cx="0.5" cy="1.0" r="0.85" fill="#625e5d"/>
      <circle cx="6.1" cy="1.0" r="0.85" fill="#625e5d"/>
      <circle cx="3.3" cy="3.8" r="0.85" fill="#625e5d"/>
    </pattern>
  </defs>
  <g font-family="Liberation Sans, sans-serif" font-weight="bold" font-size="30.5" fill="#404040" opacity="0.999">
    <text transform="translate(135.2,45.3) scale(1.086,1)">Welche</text>
    <text transform="translate(257.0,45.3) scale(1.05,1)">Gegenmaßnahmen</text>
    <text transform="translate(551.7,45.3) scale(1.047,1)">wurden</text>
    <text transform="translate(322.4,85.8) scale(1.037,1)">getroffen?</text>
  </g>
  <defs>
    <linearGradient id="lg" x1="0" y1="0" x2="1" y2="0">
      <stop offset="0" stop-color="#ffffff" stop-opacity="0.20"/>
      <stop offset="1" stop-color="#ffffff" stop-opacity="0.34"/>
    </linearGradient>
  </defs>
  <rect x="588" y="235.5" width="200.3" height="93.7" fill="url(#lg)"/>
  <rect x="597" y="246.5" width="9.2" height="9.3" fill="#156082"/>
  <rect x="597" y="277.5" width="9.2" height="9.3" fill="#e97132"/>
  <rect x="597" y="308.7" width="9.2" height="9.3" fill="#ffc000"/>
  <g font-family="Liberation Sans, sans-serif" font-size="14.7" fill="#4a4a4a" stroke="#4a4a4a" stroke-width="0.25" opacity="0.999">
    <text transform="translate(609.9,255.4) scale(1.105,1)">Überwachungskameras</text>
    <text transform="translate(610.5,286.5) scale(1.094,1)">Alarmanlage</text>
    <text transform="translate(609.9,317.7) scale(1.114,1)">Umzäunung</text>
  </g>
  <g filter="url(#dsh)">
    <path d="M294.40 141.60A140.7 140.7 0 0 1 406.68 367.09L350.42 324.60A70.2 70.2 0 0 0 294.40 212.10Z" fill="#156082" stroke="#156082" stroke-width="0.5" stroke-linejoin="round"/>
    <path d="M406.68 367.09A140.7 140.7 0 0 1 154.30 269.32L224.50 275.82A70.2 70.2 0 0 0 350.42 324.60Z" fill="#e97132" stroke="#e97132" stroke-width="0.5" stroke-linejoin="round"/>
    <path d="M154.30 269.32A140.7 140.7 0 0 1 294.40 141.60L294.40 212.10A70.2 70.2 0 0 0 224.50 275.82Z" fill="#ffc000" stroke="#ffc000" stroke-width="0.5" stroke-linejoin="round"/>
  </g>
  <g font-family="Liberation Sans, sans-serif" font-weight="bold" font-size="17.8" fill="#ffffff" text-anchor="middle" opacity="0.999">
    <g transform="translate(366,221.2)"><rect width="46" height="27.8" fill="url(#dots)" filter="url(#lsh)"/></g>
    <text x="389" y="242">35%</text>
    <g transform="translate(233.1,367.1)"><rect width="46" height="27.7" fill="url(#dots)" filter="url(#lsh)"/></g>
    <text x="256" y="387.2">41%</text>
    <g transform="translate(200.4,190.5)"><rect width="45.8" height="27.5" fill="url(#dots)" filter="url(#lsh)"/></g>
    <text x="223.3" y="211">24%</text>
  </g>
</svg>

</body>
</html>
